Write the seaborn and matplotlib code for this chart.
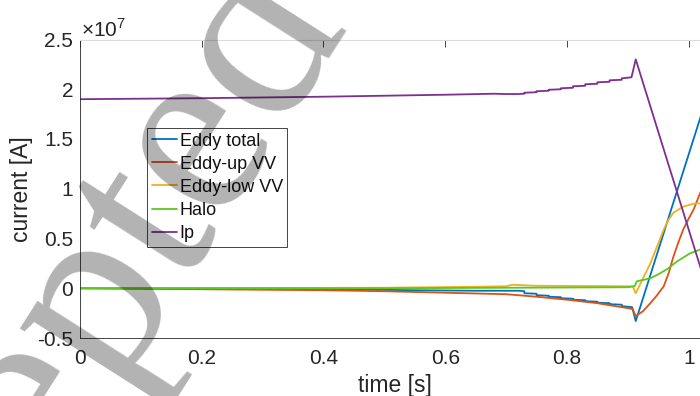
import matplotlib
matplotlib.use("Agg")
import matplotlib.pyplot as plt
import pandas as pd
import seaborn as sns
from matplotlib.ticker import FuncFormatter, FixedLocator

sns.set_theme(style="white")
plt.rcParams["font.family"] = ["Liberation Sans", "DejaVu Sans"]
plt.rcParams["axes.unicode_minus"] = False
plt.rcParams["mathtext.fontset"] = "custom"
plt.rcParams["mathtext.rm"] = "Liberation Sans"

SCALE = 1e7  # values below are in units of 1e7 A

# Eddy total
t_eddy = [0, 0.3, 0.45, 0.55, 0.65, 0.72, 0.73, 0.73, 0.75, 0.75, 0.77, 0.77, 0.79, 0.79,
          0.81, 0.81, 0.83, 0.83, 0.85, 0.85, 0.87, 0.87, 0.89, 0.89, 0.907, 0.913, 1.035]
eddy_total = [0, -0.005, -0.012, -0.02, -0.025, -0.025, -0.03, -0.05, -0.055, -0.07, -0.075,
              -0.085, -0.09, -0.1, -0.105, -0.115, -0.12, -0.13, -0.135, -0.145, -0.15, -0.16,
              -0.165, -0.18, -0.19, -0.33, 2.02]

# Eddy current in the upper vessel
t_up = [0, 0.2, 0.4, 0.5, 0.6, 0.7, 0.75, 0.8, 0.85, 0.9, 0.908, 0.913, 0.925, 0.937, 0.948,
        0.959, 0.967, 0.975, 0.983, 0.991, 1.0, 1.008, 1.019, 1.035]
eddy_up = [0, -0.01, -0.02, -0.03, -0.045, -0.06, -0.085, -0.115, -0.15, -0.2, -0.21, -0.28,
           -0.23, -0.15, -0.07, 0.02, 0.15, 0.32, 0.46, 0.59, 0.70, 0.79, 0.96, 1.15]

# Eddy current in the lower vessel
t_low = [0, 0.5, 0.65, 0.70, 0.71, 0.75, 0.9, 0.908, 0.913, 0.925, 0.937, 0.948, 0.959, 0.967,
         0.975, 0.991, 1.008, 1.035]
eddy_low = [0, 0.005, 0.015, 0.02, 0.035, 0.025, 0.02, 0.02, -0.05, 0.1, 0.25, 0.42, 0.59, 0.69,
            0.76, 0.82, 0.85, 0.86]

# Halo current
t_halo = [0, 0.5, 0.9, 0.911, 0.915, 0.937, 0.95, 0.964, 0.981, 1.002, 1.019, 1.035]
halo = [0, 0.0, 0.01, 0.02, 0.07, 0.10, 0.14, 0.19, 0.27, 0.35, 0.39, 0.42]

# Plasma current
t_ip = [0, 0.2, 0.4, 0.5, 0.6, 0.68, 0.70, 0.72, 0.73, 0.73, 0.75, 0.75, 0.77, 0.77, 0.79, 0.79,
        0.81, 0.81, 0.83, 0.83, 0.85, 0.85, 0.87, 0.87, 0.89, 0.89, 0.906, 0.913, 1.03, 1.035]
ip = [1.90, 1.91, 1.925, 1.935, 1.945, 1.955, 1.952, 1.952, 1.955, 1.965, 1.97, 1.98, 1.985,
      1.995, 2.0, 2.01, 2.015, 2.03, 2.035, 2.05, 2.055, 2.07, 2.075, 2.09, 2.095, 2.11, 2.12,
      2.30, 0.0, 0.0]

names = ["Eddy total", "Eddy-up VV", "Eddy-low VV", "Halo", "Ip"]
colors = ["#0072BD", "#D95319", "#EDB120", "#5AC81E", "#7E2F8E"]
x_ticks = [0, 0.2, 0.4, 0.6, 0.8, 1.0]
y_ticks = [-0.5, 0, 0.5, 1, 1.5, 2, 2.5]

frames = []
for name, t, v in zip(names, [t_eddy, t_up, t_low, t_halo, t_ip],
                      [eddy_total, eddy_up, eddy_low, halo, ip]):
    frames.append(pd.DataFrame({"time": t, "current": [c * SCALE for c in v], "series": name}))
df = pd.concat(frames, ignore_index=True)

fig = plt.figure(figsize=(7.0, 3.96), dpi=100)
ax = fig.add_axes([80 / 700, 58 / 396, 630 / 700, 298.5 / 396])

sns.lineplot(data=df, x="time", y="current", hue="series", hue_order=names,
             palette=dict(zip(names, colors)), estimator=None, sort=False, units="series",
             linewidth=1.3, legend=False, ax=ax)

ax.set_xlim(0, 1.035)
ax.set_ylim(-0.5 * SCALE, 2.5 * SCALE)
ax.xaxis.set_major_locator(FixedLocator(x_ticks))
ax.yaxis.set_major_locator(FixedLocator([y * SCALE for y in y_ticks]))
ax.xaxis.set_major_formatter(FuncFormatter(lambda v, p: f"{v:g}"))
ax.yaxis.set_major_formatter(FuncFormatter(lambda v, p: f"{v / SCALE:g}"))

axis_col = "#262626"
for side in ["left", "bottom"]:
    ax.spines[side].set_color(axis_col)
    ax.spines[side].set_linewidth(0.6)
for side in ["top", "right"]:
    ax.spines[side].set_color("#dcdcdc")
    ax.spines[side].set_linewidth(0.8)
ax.tick_params(axis="both", direction="in", length=5, width=0.6, color=axis_col,
               labelsize=15, labelcolor="#262626", top=True)
ax.tick_params(axis="x", pad=8)
ax.tick_params(axis="y", pad=5)

ax.set_xlabel("time [s]", fontsize=16.5, color="#262626", labelpad=4)
ax.set_ylabel("current [A]", fontsize=16.5, color="#262626", labelpad=3)
ax.text(0.002, 0.997, r"$\times10^{7}$", transform=ax.transAxes, ha="left", va="bottom",
        fontsize=15, color="#262626")

leg = ax.legend(ax.lines[:5], names, loc="upper left",
                bbox_to_anchor=(147 / 700, 1 - 128 / 396), bbox_transform=fig.transFigure,
                borderaxespad=0, fontsize=13, handlelength=1.4, handletextpad=0.15,
                labelspacing=0.34, borderpad=0.25, fancybox=False, framealpha=1,
                edgecolor=axis_col)
leg.get_frame().set_linewidth(0.6)
for txt in leg.get_texts():
    txt.set_color("#111111")

fig.text(-0.234, -1.104, "Accepted Manuscript", rotation=57.5, rotation_mode="anchor",
         ha="left", va="baseline", fontsize=182, family="Liberation Serif",
         color="black", alpha=0.3, zorder=10)

fig.savefig("out.png", dpi=100)
